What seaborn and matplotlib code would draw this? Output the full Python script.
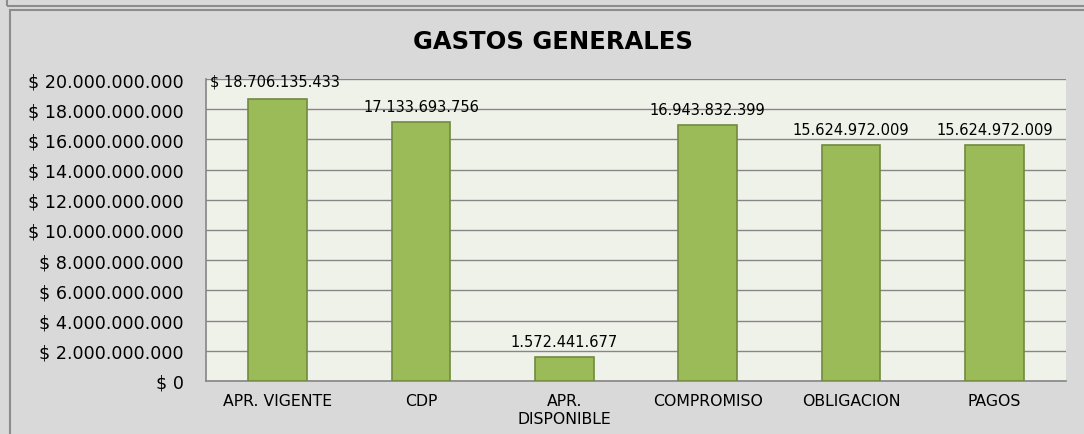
import matplotlib
matplotlib.use("Agg")
import matplotlib.pyplot as plt
import seaborn as sns
import pandas as pd
from matplotlib.patches import Rectangle
from matplotlib.ticker import FuncFormatter, MultipleLocator

categories = ["APR. VIGENTE", "CDP", "APR.\nDISPONIBLE", "COMPROMISO", "OBLIGACION", "PAGOS"]
values = [18706135433, 17133693756, 1572441677, 16943832399, 15624972009, 15624972009]
value_labels = ["$ 18.706.135.433", "17.133.693.756", "1.572.441.677",
                "16.943.832.399", "15.624.972.009", "15.624.972.009"]
title = "GASTOS GENERALES"

sns.set_style("white")
plt.rcParams['font.family'] = ['DejaVu Sans']

fig = plt.figure(figsize=(10.84, 4.35), dpi=100)
fig.patch.set_facecolor("#d9d9d9")
W, H = 1084, 435

# outer frames
fig.patches.append(Rectangle((7/W, 1 - 7/H), 1.2, 0.2, transform=fig.transFigure,
                             facecolor="none", edgecolor="#8c8c8c", lw=1.5, zorder=-1))
fig.patches.append(Rectangle((10/W, -0.1), 1.2, 1 - 11/H + 0.1, transform=fig.transFigure,
                             facecolor="none", edgecolor="#8c8c8c", lw=1.5, zorder=-1))

ax = fig.add_axes([206/W, 1 - 382/H, (1066 - 206)/W, (382 - 80)/H])
ax.set_facecolor("#eff2e9")

df = pd.DataFrame({"cat": categories, "val": values})
sns.barplot(data=df, x="cat", y="val", color="#9bbb59", edgecolor="#71893f",
            linewidth=1.2, width=0.41, saturation=1, ax=ax, zorder=3)

ax.set_ylim(0, 20e9)
ax.yaxis.set_major_locator(MultipleLocator(2e9))
ax.yaxis.set_major_formatter(FuncFormatter(lambda v, p: "$ " + f"{int(round(v)):,}".replace(",", ".")))
ax.grid(axis="y", color="#868686", lw=1, zorder=0)
ax.set_axisbelow(True)
ax.set_xlabel("")
ax.set_ylabel("")
for s in ["top", "right"]:
    ax.spines[s].set_visible(False)
for s in ["left", "bottom"]:
    ax.spines[s].set_color("#868686")
    ax.spines[s].set_linewidth(1.2)
ax.tick_params(axis="y", length=6, color="#868686", width=1, labelsize=12.6, pad=10,
               labelcolor="black")
ax.tick_params(axis="x", length=0, labelsize=11.3, pad=9, labelcolor="black")
for t in ax.get_xticklabels():
    t.set_linespacing(1.25)

for i, (v, lab) in enumerate(zip(values, value_labels)):
    if i == 0:
        ax.text(0.005, 0.993, lab, transform=ax.transAxes, ha="left", va="center",
                fontsize=10.5, color="black")
    else:
        ax.annotate(lab, (i, v), xytext=(0, 16), textcoords="offset pixels",
                    ha="center", va="center", fontsize=10.5, color="black")

fig.text(553/W, 1 - 42/H, title, ha="center", va="center", fontsize=17.5,
         fontweight="bold", color="black")

fig.savefig("out.png", dpi=100, facecolor=fig.get_facecolor())
